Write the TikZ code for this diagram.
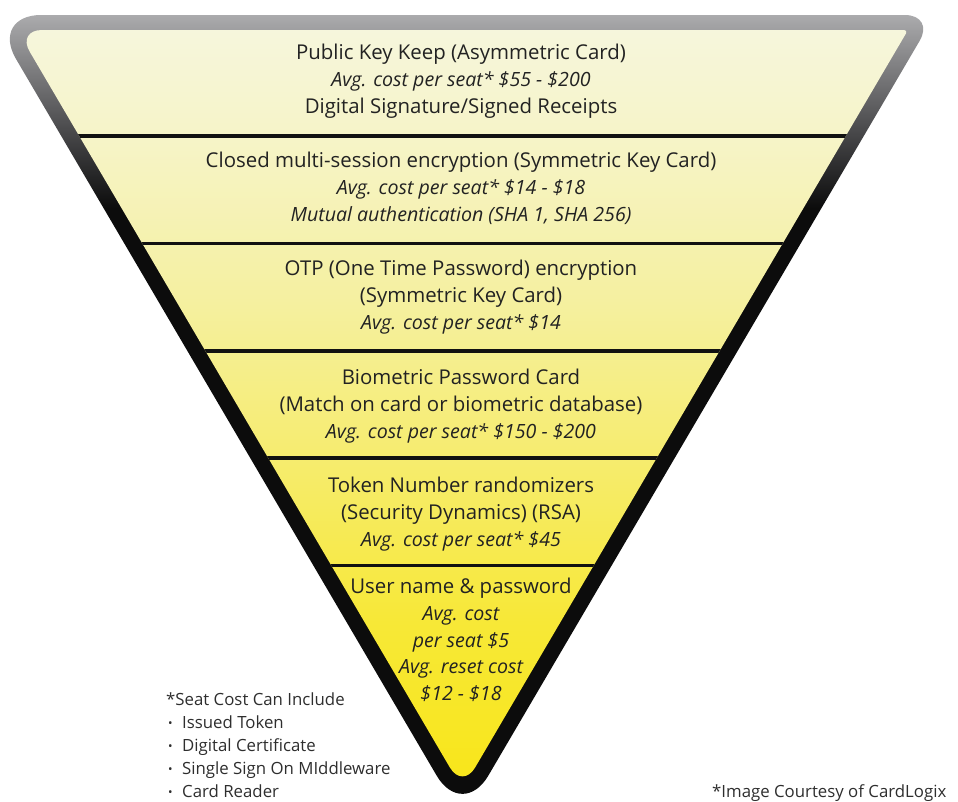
\documentclass[tikz,border=0pt]{standalone}
\usepackage{fontspec}
\setmainfont{Open Sans}

\definecolor{ink}{HTML}{222222}
\definecolor{noteink}{HTML}{2E2E2E}
\definecolor{rimtop}{HTML}{ABABAD}
\definecolor{rimmid}{HTML}{454547}
\definecolor{rimdark}{HTML}{0C0C0C}
\definecolor{sepcol}{HTML}{111111}
\definecolor{fillA}{RGB}{246,246,220}
\definecolor{fillB}{RGB}{246,244,200}
\definecolor{fillC}{RGB}{245,240,160}
\definecolor{fillD}{RGB}{246,236,110}
\definecolor{fillE}{RGB}{247,232,55}
\definecolor{fillF}{RGB}{248,230,25}

% rim: grey at the top, black towards the tip
\pgfdeclareverticalshading{rimshade}{100bp}{color(0bp)=(rimdark); color(63bp)=(rimdark); color(67.5bp)=(rimmid); color(75bp)=(rimtop); color(100bp)=(rimtop)}
% body: pale cream at the top, saturated yellow at the tip
\pgfdeclareverticalshading{funnelshade}{100bp}{color(0bp)=(fillF); color(25bp)=(fillF); color(36bp)=(fillE); color(46.7bp)=(fillD); color(57.2bp)=(fillC); color(68bp)=(fillB); color(75bp)=(fillA); color(100bp)=(fillA)}

\newcommand{\bandfont}{\fontsize{20.4}{23}\selectfont}
\newcommand{\banditfont}{\fontsize{19.6}{23}\selectfont\itshape}
\newcommand{\notefont}{\fontsize{16.8}{20}\selectfont}
\newcommand{\notebullet}{\makebox[14pt][l]{\raisebox{1pt}{\fontsize{12}{12}\selectfont •}}}

\begin{document}
\begin{tikzpicture}[x=1pt,y=-1pt,
  band/.style={anchor=base,text=ink,inner sep=0pt,font=\bandfont},
  bandit/.style={band,font=\banditfont},
  note/.style={anchor=base west,text=noteink,inner sep=0pt,font=\notefont},
  sepline/.style={draw=sepcol,line width=3.5pt}]
\useasboundingbox (0,0) rectangle (958,801);

% funnel outline points
\coordinate (otl) at (-9.8,15);
\coordinate (otr) at (934.8,15);
\coordinate (otip) at (462.5,819.6);
\coordinate (itl) at (17,30);
\coordinate (itr) at (908,30);
\coordinate (itip) at (462.5,789);

% rim
\shade[shading=rimshade] (462.5,15) [rounded corners=51] -- (otl) -- (otip) [rounded corners=30] -- (otr) [rounded corners=51] -- cycle;
% body
\shade[shading=funnelshade] (462.5,30) [rounded corners=25] -- (itl) -- (itip) [rounded corners=4] -- (itr) [rounded corners=25] -- cycle;

% band separators
\begin{scope}
  \clip (462.5,30) [rounded corners=25] -- (itl) -- (itip) [rounded corners=4] -- (itr) [rounded corners=25] -- cycle;
  \foreach \y in {136,243.4,350.8,458.2,565.6}
    \draw[sepline] (0,\y) -- (958,\y);
\end{scope}

% band 1
\node[band]   (b1a) at (461,59)  {Public Key Keep (Asymmetric Card)};
\node[bandit] (b1b) at (461,86)  {Avg. cost per seat* \$55 - \$200};
\node[band]   (b1c) at (461,113) {Digital Signature/Signed Receipts};
% band 2
\node[band]   (b2a) at (461,167) {Closed multi-session encryption (Symmetric Key Card)};
\node[bandit] (b2b) at (461,194) {Avg. cost per seat* \$14 - \$18};
\node[bandit] (b2c) at (461,221) {Mutual authentication (SHA 1, SHA 256)};
% band 3
\node[band]   (b3a) at (461,275) {OTP (One Time Password) encryption};
\node[band]   (b3b) at (461,302) {(Symmetric Key Card)};
\node[bandit] (b3c) at (461,329) {Avg. cost per seat* \$14};
% band 4
\node[band]   (b4a) at (461,384) {Biometric Password Card};
\node[band]   (b4b) at (461,411) {(Match on card or biometric database)};
\node[bandit] (b4c) at (461,438) {Avg. cost per seat* \$150 - \$200};
% band 5
\node[band]   (b5a) at (461,492) {Token Number randomizers};
\node[band]   (b5b) at (461,519) {(Security Dynamics) (RSA)};
\node[bandit] (b5c) at (461,546) {Avg. cost per seat* \$45};
% band 6
\node[band]   (b6a) at (461,593)   {User name \& password};
\node[bandit] (b6b) at (461,620)   {Avg. cost};
\node[bandit] (b6c) at (461,647)   {per seat \$5};
\node[bandit] (b6d) at (461,673.5) {Avg. reset cost};
\node[bandit] (b6e) at (461,700)   {\$12 - \$18};

% footnotes
\node[note] (n1) at (166,705) {*Seat Cost Can Include};
\node[note] (n2) at (168,728) {\notebullet Issued Token};
\node[note] (n3) at (168,751) {\notebullet Digital Certificate};
\node[note] (n4) at (168,774) {\notebullet Single Sign On MIddleware};
\node[note] (n5) at (168,797) {\notebullet Card Reader};
\node[note] (credit) at (712,797) {*Image Courtesy of CardLogix};
\end{tikzpicture}
\end{document}
